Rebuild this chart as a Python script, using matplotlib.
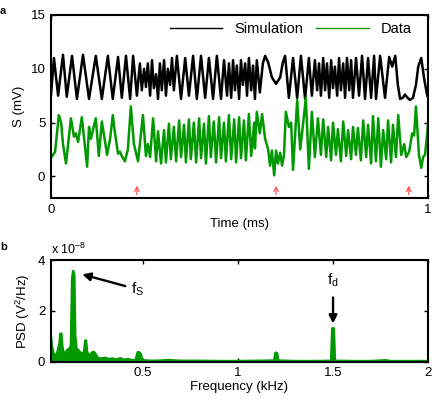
import matplotlib
matplotlib.use("Agg")
import matplotlib.pyplot as plt
import numpy as np

plt.rcParams['font.family'] = ['Liberation Sans', 'DejaVu Sans']
plt.rcParams['mathtext.fontset'] = 'custom'
plt.rcParams['mathtext.rm'] = 'Liberation Sans'
plt.rcParams['mathtext.it'] = 'Liberation Sans'

# ---- Panel a: time series (time in microseconds, signal in mV) ----
sim_t_us = [0, 8, 19, 32, 42, 56, 69, 85, 101, 119, 135, 151, 164, 178, 188, 199, 210, 218, 228,
            236, 241, 247, 252, 257, 263, 268, 273, 279, 284, 289, 294, 300, 305, 310, 316, 321, 326,
            334, 345, 356, 366, 377, 387, 398, 409, 419, 430, 440, 451, 459, 467, 472, 478,
            483, 488, 493, 499, 504, 509, 515, 520, 525, 531, 536, 541, 546, 554,
            562, 568, 576, 586, 597, 608, 615, 621, 631, 642, 653, 663, 674, 684, 692,
            700, 706, 711, 716, 722, 727, 732, 738, 743, 748, 753, 759, 764, 769, 775, 780,
            785, 791, 796, 801, 809, 817, 825, 833, 841, 849, 857, 862, 873, 886, 897, 905, 913,
            920, 926, 933, 939, 946, 952, 960, 968, 974, 982, 990, 998]
sim_mv = [7.5, 11.0, 7.5, 11.3, 7.4, 11.2, 7.2, 11.3, 7.2, 11.2, 7.2, 11.2, 7.2, 11.1, 7.3, 11.2, 7.2, 11.2, 7.5,
          10.5, 8.0, 10.0, 8.3, 10.5, 7.5, 10.8, 8.2, 9.5, 7.2, 10.5, 8.0, 10.8, 7.5, 10.0, 8.5, 11.0, 8.0,
          11.2, 7.2, 11.0, 7.5, 11.2, 7.2, 11.2, 7.3, 11.0, 7.2, 11.2, 7.2, 10.8, 7.5, 10.5, 7.3,
          10.8, 8.0, 10.3, 7.2, 10.8, 8.5, 10.5, 7.5, 11.0, 8.0, 10.3, 7.2, 10.8, 7.8,
          10.5, 11.2, 10.6, 9.2, 8.6, 9.2, 10.6, 11.2, 7.3, 11.0, 7.3, 11.2, 7.2, 11.0, 7.5,
          10.8, 8.0, 10.5, 7.5, 11.0, 8.0, 10.5, 7.3, 10.8, 8.2, 10.2, 7.5, 11.0, 8.0, 10.5, 7.3,
          11.0, 8.0, 10.8, 7.3, 11.0, 7.5, 11.2, 7.2, 11.0, 7.3, 11.2, 7.2, 11.2, 7.3, 11.1, 10.2, 11.2,
          8.5, 7.2, 7.3, 7.6, 7.3, 7.1, 7.3, 8.5, 10.2, 11.0, 9.0, 7.5]

data_t_us = [0, 11, 21, 27, 32, 40, 53, 61, 66, 72, 82, 96, 101, 106, 119, 127, 135, 141, 149, 157,
             164, 170, 178, 183, 188, 196, 204, 212, 220, 231, 244, 252, 257, 263, 271, 279, 284,
             292, 300, 305, 313, 318, 326, 332, 340, 345, 353, 358, 366, 371, 379, 385, 393, 398,
             406, 411, 419, 424, 432, 438, 446, 451, 459, 464, 472, 478, 486, 491, 499, 504, 512,
             517, 525, 531, 539, 541, 546, 554, 560, 568, 576, 581, 586, 592, 597, 602, 608, 613,
             618, 623, 631, 637, 642, 653, 661, 669, 676, 684, 692, 700, 708, 716, 722, 730, 735,
             743, 748, 756, 761, 769, 775, 783, 788, 796, 801, 809, 814, 822, 828, 836, 841, 849,
             854, 862, 868, 875, 881, 889, 894, 902, 907, 915, 921, 929, 937, 942, 950, 958, 963,
             968, 976, 982, 987, 992, 1000]
data_mv = [1.7, 2.3, 5.7, 5.0, 3.0, 1.2, 5.4, 3.7, 4.0, 3.2, 5.5, 0.9, 4.6, 3.5, 5.4, 1.9, 5.1, 3.8, 2.0, 3.5,
           5.7, 4.0, 2.1, 2.3, 1.9, 1.4, 2.5, 6.5, 3.0, 1.4, 5.7, 1.9, 3.0, 1.8, 5.4, 1.4, 4.2,
           1.2, 4.3, 1.3, 4.9, 1.6, 4.6, 1.4, 5.2, 1.8, 4.8, 1.3, 5.3, 1.6, 5.0, 1.3, 5.4, 1.7,
           4.9, 1.2, 5.6, 1.8, 5.1, 1.3, 5.5, 1.7, 5.0, 1.4, 5.7, 1.6, 5.3, 1.3, 5.5, 1.7, 5.2,
           1.5, 5.8, 1.9, 5.0, 2.6, 6.0, 4.0, 5.8, 3.5, 2.5, 1.0, 2.4, 0.1, 2.4, 1.2, 2.2, 1.0,
           2.0, 6.0, 4.6, 5.0, 0.6, 7.1, 2.5, 5.0, 7.3, 0.7, 6.0, 1.8, 5.4, 2.0, 5.3, 1.8, 4.6,
           1.5, 5.0, 2.0, 4.4, 1.4, 5.1, 1.9, 4.3, 1.6, 4.6, 2.0, 4.5, 1.5, 5.2, 1.8, 4.8, 1.2,
           5.6, 1.4, 5.4, 0.9, 4.3, 1.6, 5.2, 1.3, 4.8, 1.8, 5.7, 2.0, 3.0, 1.8, 2.3, 4.0, 3.8,
           6.5, 2.0, 0.8, 1.8, 2.0, 4.8]

marker_t_ms = [0.228, 0.597, 0.949]
time_ticks = [0, 1]
s_ticks = [0, 5, 10, 15]

# ---- Panel b: PSD (frequency kHz, PSD in units of 1e-8 V^2/Hz) ----
psd_f = [0.015, 0.02, 0.03, 0.04, 0.05, 0.06, 0.065, 0.07, 0.075, 0.08, 0.09, 0.1, 0.11, 0.12,
         0.127, 0.132, 0.138, 0.143, 0.15, 0.16, 0.17, 0.18, 0.19, 0.196, 0.2, 0.205, 0.21, 0.22,
         0.23, 0.24, 0.25, 0.26, 0.28, 0.3, 0.32, 0.34, 0.36, 0.38, 0.4, 0.42, 0.44, 0.46,
         0.472, 0.478, 0.488, 0.495, 0.55, 0.6, 0.63, 0.7, 0.8, 0.9, 1.0, 1.1, 1.19, 1.197,
         1.205, 1.212, 1.3, 1.4, 1.49, 1.496, 1.504, 1.51, 1.6, 1.7, 1.78, 1.8, 1.9, 2.0]
psd_v = [1.0, 0.6, 0.3, 0.2, 0.4, 0.7, 1.1, 1.1, 0.6, 0.4, 0.3, 0.45, 0.5, 0.6,
         3.3, 3.57, 3.4, 1.0, 0.5, 0.45, 0.35, 0.3, 0.4, 0.83, 0.83, 0.4, 0.3, 0.25,
         0.35, 0.38, 0.3, 0.15, 0.12, 0.15, 0.1, 0.12, 0.08, 0.13, 0.07, 0.1, 0.06, 0.05,
         0.37, 0.37, 0.3, 0.05, 0.03, 0.04, 0.06, 0.03, 0.03, 0.02, 0.02, 0.03, 0.04, 0.35,
         0.33, 0.04, 0.02, 0.02, 0.03, 1.31, 1.31, 0.03, 0.02, 0.02, 0.05, 0.02, 0.02, 0.02]
freq_ticks = [0.5, 1, 1.5, 2]
psd_ticks = [0, 2, 4]

green = '#009900'
fs = 9.5

fig = plt.figure(figsize=(4.39, 4.04), dpi=100)
axa = fig.add_axes([0.116, 0.510, 0.859, 0.453])
axb = fig.add_axes([0.116, 0.105, 0.859, 0.251])

sim_t = np.array(sim_t_us) / 1000.0
data_t = np.array(data_t_us) / 1000.0
axa.plot(sim_t, sim_mv, color='k', lw=1.8, label='Simulation', solid_joinstyle='round')
axa.plot(data_t, data_mv, color=green, lw=1.8, label='Data', solid_joinstyle='round')
for tm in marker_t_ms:
    axa.annotate('', xy=(tm, -0.6), xytext=(tm, -1.95),
                 arrowprops=dict(arrowstyle='->', color='#ff5555', lw=0.9, mutation_scale=8))
axa.set_xlim(0, 1)
axa.set_ylim(-2, 15)
axa.set_xticks(time_ticks)
axa.set_xticklabels(['0', '1'])
axa.set_yticks(s_ticks)
axa.set_xlabel('Time (ms)', fontsize=fs, labelpad=2)
axa.set_ylabel('S (mV)', fontsize=fs, labelpad=4)
leg = axa.legend(loc='upper right', ncol=2, frameon=False, fontsize=10.5, handlelength=3.6,
                 columnspacing=0.9, handletextpad=0.8, borderaxespad=0.1,
                 bbox_to_anchor=(0.975, 1.0))
for h in leg.get_lines():
    h.set_linewidth(1.0)

axb.fill_between(psd_f, 0, psd_v, color=green, lw=0)
axb.plot(psd_f, psd_v, color=green, lw=1.8)
axb.set_xlim(0.015, 2)
axb.set_ylim(0, 4)
axb.set_xticks(freq_ticks)
axb.set_xticklabels(['0.5', '1', '1.5', '2'])
axb.set_yticks(psd_ticks)
axb.set_xlabel('Frequency (kHz)', fontsize=fs, labelpad=1)
axb.set_ylabel(r'PSD (V$^2$/Hz)', fontsize=fs, labelpad=4)
axb.text(0.0, 1.03, r'x 10$^{-8}$', transform=axb.transAxes, fontsize=fs - 0.5,
         ha='left', va='bottom')
axb.annotate(r'f$_\mathrm{S}$', xy=(0.18, 3.44), xytext=(0.435, 2.85), fontsize=fs + 1.5,
             ha='left', va='center',
             arrowprops=dict(arrowstyle='-|>', color='k', lw=1.7, mutation_scale=12,
                             shrinkA=2, shrinkB=0))
axb.annotate(r'f$_\mathrm{d}$', xy=(1.5, 1.5), xytext=(1.5, 3.2), fontsize=fs + 1.5,
             ha='center', va='center',
             arrowprops=dict(arrowstyle='-|>', color='k', lw=1.7, mutation_scale=12,
                             shrinkA=4, shrinkB=0))

for ax in (axa, axb):
    ax.tick_params(direction='in', top=True, right=True, labelsize=fs, length=3, width=1,
                   pad=4)
    for sp in ax.spines.values():
        sp.set_linewidth(1.5)

fig.text(0.0, 0.985, 'a', fontsize=8, fontweight='bold', ha='left', va='top')
fig.text(0.0, 0.40, 'b', fontsize=8, fontweight='bold', ha='left', va='top')

fig.savefig('out.png', dpi=100)
